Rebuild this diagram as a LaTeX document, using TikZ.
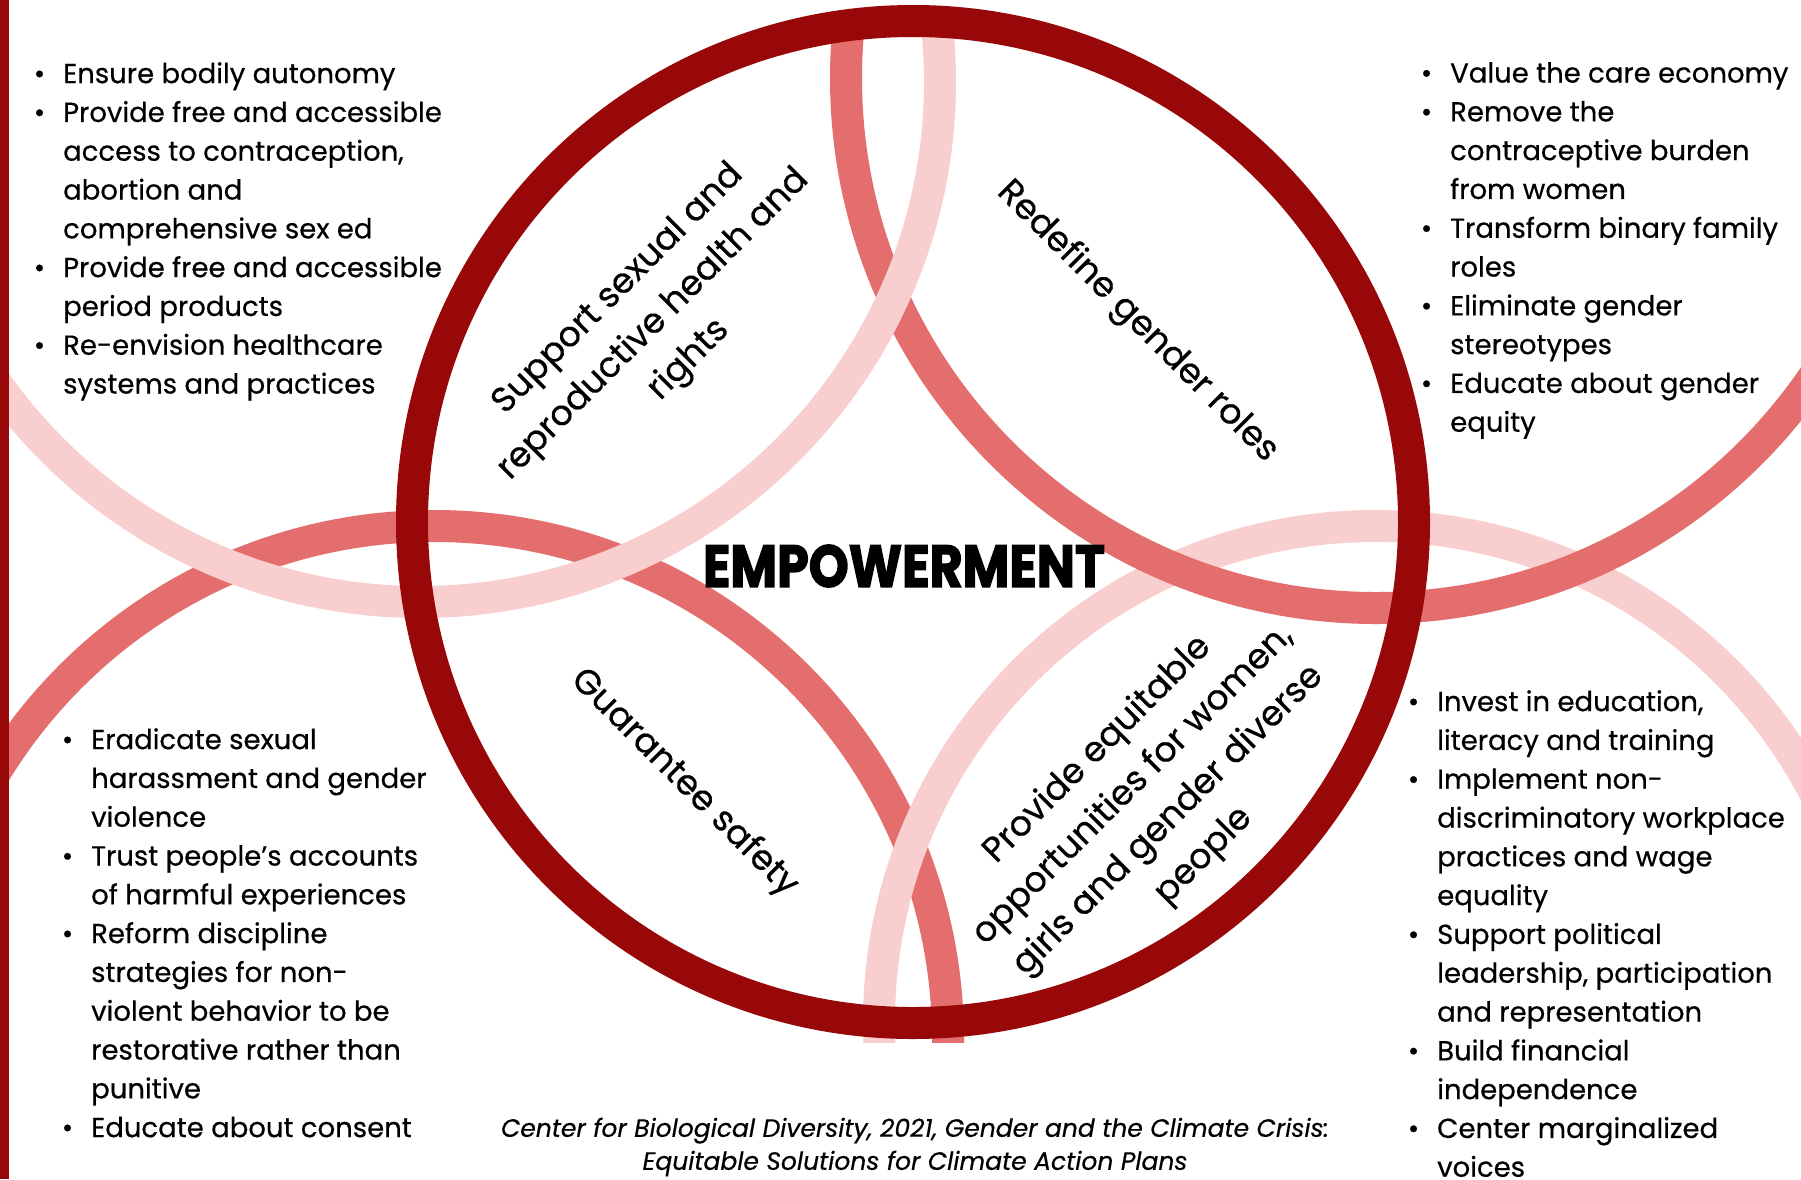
\documentclass[tikz,border=0pt]{standalone}
\usepackage{fontspec}
\usepackage{graphicx}
\setmainfont{Poppins}[FakeBold=0.5]
\usetikzlibrary{positioning}

\definecolor{ringred}{RGB}{152,8,8}
\definecolor{salmon}{RGB}{228,110,110}
\definecolor{blush}{RGB}{249,206,207}

\newcommand{\dotitem}{\llap{\textbullet\hspace{18pt}}}

\begin{document}
\begin{tikzpicture}[x=1pt,y=-1pt]
	\tikzset{band/.style = {line width=32pt}}
	\tikzset{list/.style = {anchor=north west,inner sep=0pt,align=left,font=\fontsize{27.5}{38.8}\selectfont}}
	\tikzset{area/.style = {inner sep=0pt,align=center,font=\fontsize{35}{50}\selectfont}}
	\useasboundingbox[fill=white] (0,0) rectangle (1801,1179);
	% centres
	\coordinate (ring) at (913,522);
	\coordinate (ul) at (420,82);
	\coordinate (ur) at (1376,78);
	\coordinate (ll) at (434,1040);
	\coordinate (lr) at (1375,1022);
	% bands
	\begin{scope}
		\clip (0,12) rectangle (1801,1042);
		\draw[band,salmon] (ll) circle (514);
		\draw[band,blush] (lr) circle (496);
		\draw[band,salmon] (ur) circle (530);
		\draw[band,blush] (ul) circle (520);
	\end{scope}
	\draw[band,ringred] (ring) circle (501);
	\fill[ringred] (0,0) rectangle (9,1179);
	% areas
	\node[area,rotate=45] (health) at (654,325) {Support sexual and\\reproductive health and\\rights};
	\node[area,rotate=-45] (roles) at (1137,322) {Redefine gender roles};
	\node[area,rotate=-45] (safety) at (684,783) {Guarantee safety};
	\node[area,rotate=45] (equity) at (1151,803) {Provide equitable\\opportunities for women,\\girls and gender diverse\\people};
	\node[inner sep=0pt] (empower) at (904,566)
		{\resizebox{402pt}{42pt}{\bfseries\addfontfeatures{FakeBold=2.5}EMPOWERMENT}};
	% lists
	\node[list] (tl) at (63,62) {\dotitem Ensure bodily autonomy\\
		\dotitem Provide free and accessible\\
		access to contraception,\\
		abortion and\\
		comprehensive sex ed\\
		\dotitem Provide free and accessible\\
		period products\\
		\dotitem Re-envision healthcare\\
		systems and practices};
	\node[list] (tr) at (1450,62) {\dotitem Value the care economy\\
		\dotitem Remove the\\
		contraceptive burden\\
		from women\\
		\dotitem Transform binary family\\
		roles\\
		\dotitem Eliminate gender\\
		stereotypes\\
		\dotitem Educate about gender\\
		equity};
	\node[list] (bl) at (91,728) {\dotitem Eradicate sexual\\
		harassment and gender\\
		violence\\
		\dotitem Trust people’s accounts\\
		of harmful experiences\\
		\dotitem Reform discipline\\
		strategies for non-\\
		violent behavior to be\\
		restorative rather than\\
		punitive\\
		\dotitem Educate about consent};
	\node[list] (br) at (1437,690) {\dotitem Invest in education,\\
		literacy and training\\
		\dotitem Implement non-\\
		discriminatory workplace\\
		practices and wage\\
		equality\\
		\dotitem Support political\\
		leadership, participation\\
		and representation\\
		\dotitem Build financial\\
		independence\\
		\dotitem Center marginalized\\
		voices};
	% source
	\node[inner sep=0pt,align=center,font=\itshape\fontsize{25}{33}\selectfont] (source) at (915,1147)
		{Center for Biological Diversity, 2021, Gender and the Climate Crisis:\\Equitable Solutions for Climate Action Plans};
\end{tikzpicture}
\end{document}
